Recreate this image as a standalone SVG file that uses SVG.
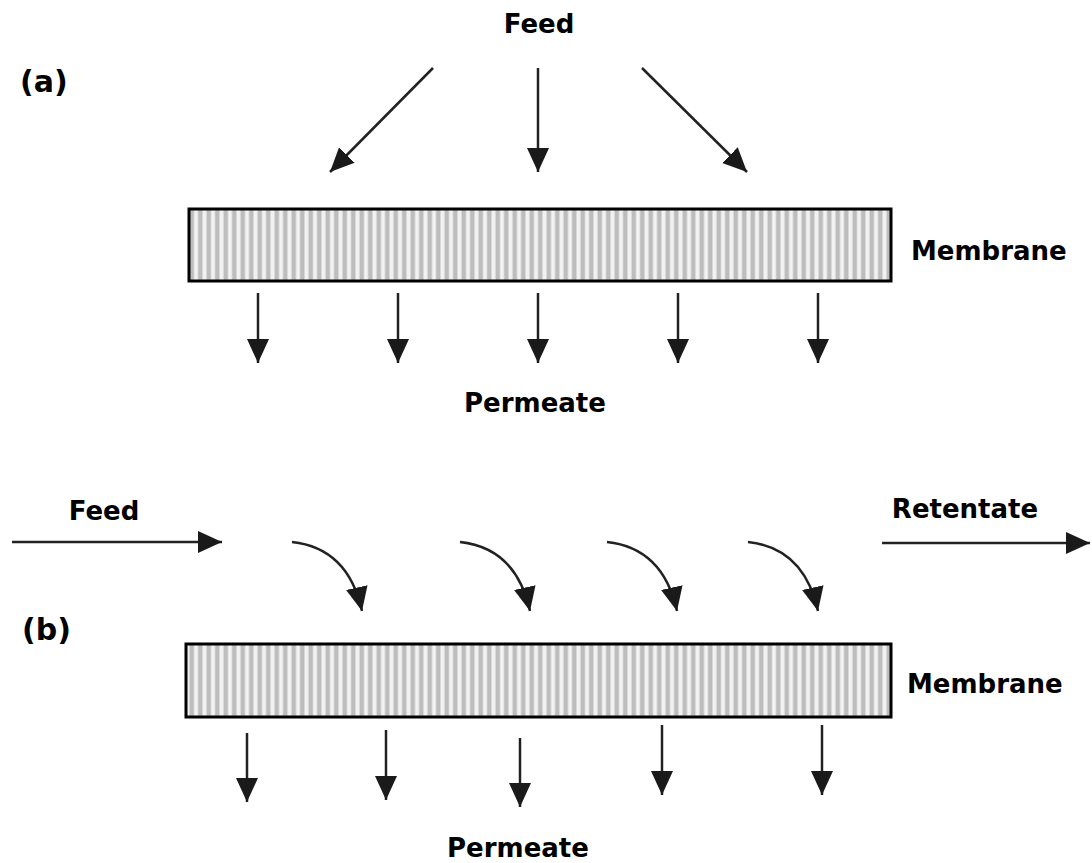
<svg xmlns="http://www.w3.org/2000/svg" width="1092" height="863" viewBox="0 0 1092 863">
<defs>
<pattern id="stripes" patternUnits="userSpaceOnUse" x="0" y="0" width="8.5" height="10">
<rect width="8.5" height="10" fill="#f2f2f2"/>
<rect x="2.5" width="4.5" height="10" fill="#bdbdbd"/>
</pattern>
<marker id="ah" markerUnits="userSpaceOnUse" markerWidth="26" markerHeight="26" viewBox="0 0 26 26" refX="24" refY="13" orient="auto">
<path d="M0,2 L24,13 L0,24 Z" fill="#1a1a1a"/>
</marker>
</defs>
<style>
.t{font-family:"DejaVu Sans",Verdana,sans-serif;font-weight:bold;font-size:26px;fill:#000}
.l{font-size:30px}
.c{fill:none;stroke:#222;stroke-width:2.5;marker-end:url(#ah)}
.m{fill:url(#stripes);stroke:#000;stroke-width:3}
</style>
<rect width="1092" height="863" fill="#fff"/>
<g id="panel-a">
<text class="t l" x="20" y="92">(a)</text>
<g id="feed-a"><text class="t" x="539" y="33" text-anchor="middle">Feed</text></g>
<g id="membrane-a"><rect class="m" x="189" y="209" width="702" height="72"/><text class="t" x="911" y="260">Membrane</text></g>
<g id="permeate-a"><text class="t" x="535" y="412" text-anchor="middle">Permeate</text></g>
</g>
<g id="panel-b">
<text class="t l" x="22" y="640">(b)</text>
<g id="feed-b"><text class="t" x="104" y="520" text-anchor="middle">Feed</text></g>
<g id="retentate-b"><text class="t" x="965" y="518" text-anchor="middle">Retentate</text></g>
<g id="membrane-b"><rect class="m" x="186" y="644" width="705" height="73"/><text class="t" x="907" y="693">Membrane</text></g>
<g id="permeate-b"><text class="t" x="518" y="857" text-anchor="middle">Permeate</text></g>
</g>
<g id="connectors">
<line class="c" x1="433" y1="68" x2="330" y2="172"/>
<line class="c" x1="538" y1="68" x2="538" y2="172"/>
<line class="c" x1="642" y1="68" x2="747" y2="172"/>
<line class="c" x1="258" y1="293" x2="258" y2="363"/>
<line class="c" x1="398" y1="293" x2="398" y2="363"/>
<line class="c" x1="538" y1="293" x2="538" y2="363"/>
<line class="c" x1="678" y1="293" x2="678" y2="363"/>
<line class="c" x1="818" y1="293" x2="818" y2="363"/>
<line class="c" x1="12" y1="542" x2="222" y2="542"/>
<line class="c" x1="882" y1="543" x2="1090" y2="543"/>
<path class="c" d="M292,542 Q348,548 362,611"/>
<path class="c" d="M460,542 Q516,548 530,611"/>
<path class="c" d="M607,542 Q663,548 677,611"/>
<path class="c" d="M748,542 Q804,548 818,611"/>
<line class="c" x1="247" y1="733" x2="247" y2="802"/>
<line class="c" x1="386" y1="730" x2="386" y2="800"/>
<line class="c" x1="520" y1="738" x2="520" y2="807"/>
<line class="c" x1="662" y1="725" x2="662" y2="795"/>
<line class="c" x1="822" y1="725" x2="822" y2="795"/>
</g>
</svg>
